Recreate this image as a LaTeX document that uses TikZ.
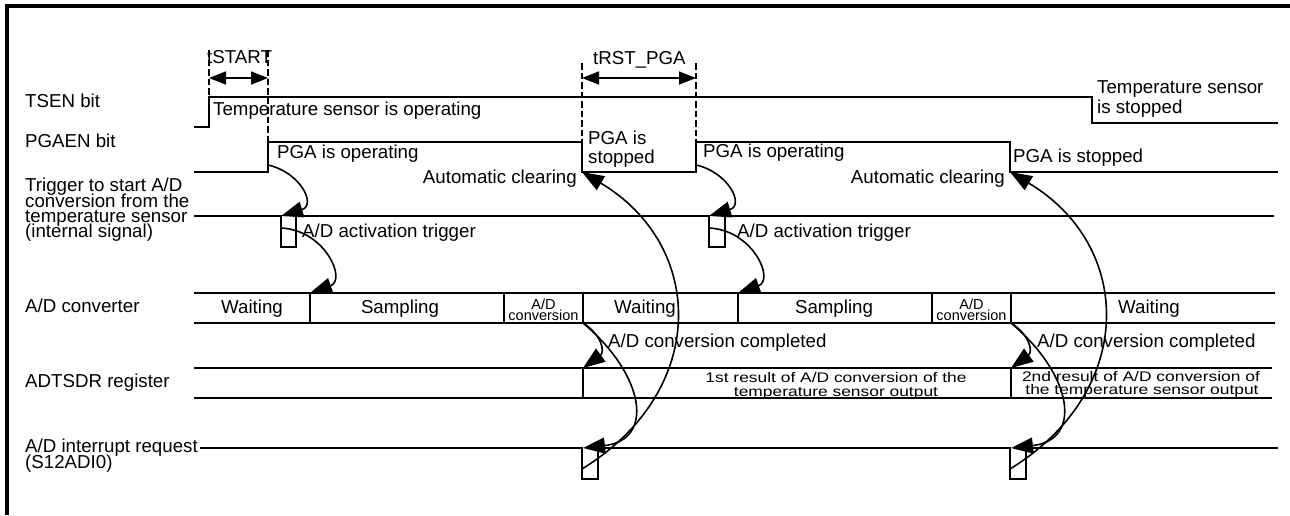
\documentclass[tikz,border=0pt]{standalone}
\usepackage{fontspec}
\setmainfont{Liberation Sans}
\usetikzlibrary{arrows.meta}
\begin{document}
\begin{tikzpicture}[x=1pt,y=-1pt,
  sig/.style={line width=1.6pt},
  frameline/.style={line width=3.8pt},
  dimline/.style={line width=1.8pt, dash pattern=on 6.5pt off 3pt},
  dimarrow/.style={line width=1.6pt, {Triangle[length=17pt,width=13pt]}-{Triangle[length=17pt,width=13pt]}},
  cause/.style={line width=1.6pt, -{Triangle[length=22pt,width=16pt]}},
  lbl/.style={font=\fontsize{18.7}{15.5}\selectfont, inner sep=0pt, anchor=base west},
  lblc/.style={font=\fontsize{18.7}{15.5}\selectfont, inner sep=0pt, anchor=base},
  small/.style={font=\fontsize{14.5}{11}\selectfont, inner sep=0pt, anchor=base},
  res/.style={font=\fontsize{17.4}{13}\selectfont, inner sep=0pt, anchor=base}
]
\useasboundingbox (0,0) rectangle (1290,515);
% frame
\draw[frameline] (7,515) -- (7,6) -- (1290,6);

% ---- row labels
\node[lbl] (lTSEN) at (25,107) {TSEN bit};
\node[lbl] (lPGAEN) at (25,147) {PGAEN bit};
\node[lbl] (lTrg1) at (25,191) {Trigger to start A/D};
\node[lbl] (lTrg2) at (25,207) {conversion from the};
\node[lbl] (lTrg3) at (25,222) {temperature sensor};
\node[lbl] (lTrg4) at (25,237) {(internal signal)};
\node[lbl] (lADC) at (25,312) {A/D converter};
\node[lbl] (lREG) at (25,387) {ADTSDR register};
\node[lbl] (lINT1) at (25,452) {A/D interrupt request};
\node[lbl] (lINT2) at (25,468) {(S12ADI0)};

% ---- signals
\draw[sig] (194,127) -- (209,127) -- (209,97) -- (1092,97) -- (1092,123) -- (1278,123);
\draw[sig] (194,172) -- (268,172) -- (268,142) -- (582,142) -- (582,172) -- (696,172)
  -- (696,142) -- (1010,142) -- (1010,172) -- (1278,172);
\draw[sig] (194,216) -- (281,216) -- (281,247) -- (296,247) -- (296,216) -- (709,216)
  -- (709,247) -- (725,247) -- (725,216) -- (1274,216);
% A/D converter
\draw[sig] (194,293) -- (1275,293);
\draw[sig] (194,323) -- (1275,323);
\foreach \xx in {310,504,583,738,932,1011} \draw[sig] (\xx,293) -- (\xx,323);
% ADTSDR
\draw[sig] (194,368) -- (1272,368);
\draw[sig] (194,398) -- (1272,398);
\foreach \xx in {583,1011} \draw[sig] (\xx,368) -- (\xx,398);
% interrupt
\coordinate (intStart) at ([xshift=2pt,yshift=4pt]lINT1.base east);
\draw[sig] (intStart) -- (582,448) -- (582,479) -- (598,479) -- (598,448) -- (1010,448)
  -- (1010,479) -- (1026,479) -- (1026,448) -- (1278,448);

% ---- timing dimensions
\draw[dimline] (209,50) -- (209,97);
\draw[dimline] (268,50) -- (268,142);
\draw[dimline] (582,63) -- (582,142);
\draw[dimline] (696,63) -- (696,142);
\coordinate (dS1) at (209,78); \coordinate (dS2) at (268,78);
\coordinate (dR1) at (582,78); \coordinate (dR2) at (696,78);
\draw[dimarrow] (dS1) -- (dS2);
\draw[dimarrow] (dR1) -- (dR2);
\node[lbl] (tstart) at (207,63) {tSTART};
\node[lbl] (trst) at (593,64) {tRST\_PGA};

% ---- state texts
\node[lbl] (tsop) at (213,115) {Temperature sensor is operating};
\node[lbl] (tsst1) at (1097,93) {Temperature sensor};
\node[lbl] (tsst2) at (1097,113) {is stopped};
\node[lbl] (pgaop1) at (277,158) {PGA is operating};
\node[lbl] (pgaop2) at (703,157) {PGA is operating};
\node[lbl] (pgast1a) at (588,144) {PGA is};
\node[lbl] (pgast1b) at (588,163) {stopped};
\node[lbl] (pgast2) at (1013,162) {PGA is stopped};
\node[lbl, anchor=base east] (ac1) at (577,183) {Automatic clearing};
\node[lbl, anchor=base east] (ac2) at (1005,183) {Automatic clearing};
\node[lbl] (act1) at (302,237) {A/D activation trigger};
\node[lbl] (act2) at (737,237) {A/D activation trigger};
\node[lbl] (cc1) at (608,347) {A/D conversion completed};
\node[lbl] (cc2) at (1037,347) {A/D conversion completed};

% ADC states
\node[lblc] (w1) at (252,313) {Waiting};
\node[lblc] (s1) at (400,313) {Sampling};
\node[small] (c1a) at (543.5,309) {A/D};
\node[small] (c1b) at (543.5,320) {conversion};
\node[lblc] (w2) at (645,313) {Waiting};
\node[lblc] (s2) at (834,313) {Sampling};
\node[small] (c2a) at (971.5,309) {A/D};
\node[small] (c2b) at (971.5,320) {conversion};
\node[lblc] (w3) at (1149,313) {Waiting};

% ADTSDR results
\node[res] (r1a) at (836,382) {\scalebox{1}[0.8]{1st result of A/D conversion of the}};
\node[res] (r1b) at (836,396) {\scalebox{1}[0.8]{temperature sensor output}};
\node[res] (r2a) at (1141,381) {\scalebox{1}[0.8]{2nd result of A/D conversion of}};
\node[res] (r2b) at (1142,394) {\scalebox{1}[0.8]{the temperature sensor output}};

% ---- cause arrows
\coordinate (pgaR1) at (268,165);  \coordinate (trgT1) at (281,216);
\coordinate (trgM1) at (281,228);  \coordinate (adcS1) at (310,293);
\coordinate (pgaR2) at (696,165);  \coordinate (trgT2) at (709,216);
\coordinate (trgM2) at (709,228);  \coordinate (adcS2) at (738,293);
\coordinate (adcE1) at (583,323);  \coordinate (regT1) at (583,368);
\coordinate (intT1) at (583,448);  \coordinate (intB1) at (582,469);
\coordinate (pgaF1) at (582,172);
\coordinate (adcE2) at (1011,323); \coordinate (regT2) at (1011,368);
\coordinate (intT2) at (1011,448); \coordinate (intB2) at (1010,469);
\coordinate (pgaF2) at (1010,172);

\draw[cause] (pgaR1) .. controls (300,172) and (317,205) .. (trgT1);
\draw[cause] (trgM1) .. controls (325,230) and (347,280) .. (adcS1);
\draw[cause] (pgaR2) .. controls (728,172) and (745,205) .. (trgT2);
\draw[cause] (trgM2) .. controls (753,230) and (775,280) .. (adcS2);

\draw[cause] (adcE1) .. controls (602,335) and (605,352) .. (regT1);
\draw[cause] (adcE1) .. controls (645,375) and (655,440) .. (intT1);
\draw[cause] (adcE2) .. controls (1030,335) and (1033,352) .. (regT2);
\draw[cause] (adcE2) .. controls (1073,375) and (1083,440) .. (intT2);

\draw[cause] (intB1) .. controls (710,390) and (705,245) .. (pgaF1);
\draw[cause] (intB2) .. controls (1138,390) and (1133,245) .. (pgaF2);
\end{tikzpicture}
\end{document}
